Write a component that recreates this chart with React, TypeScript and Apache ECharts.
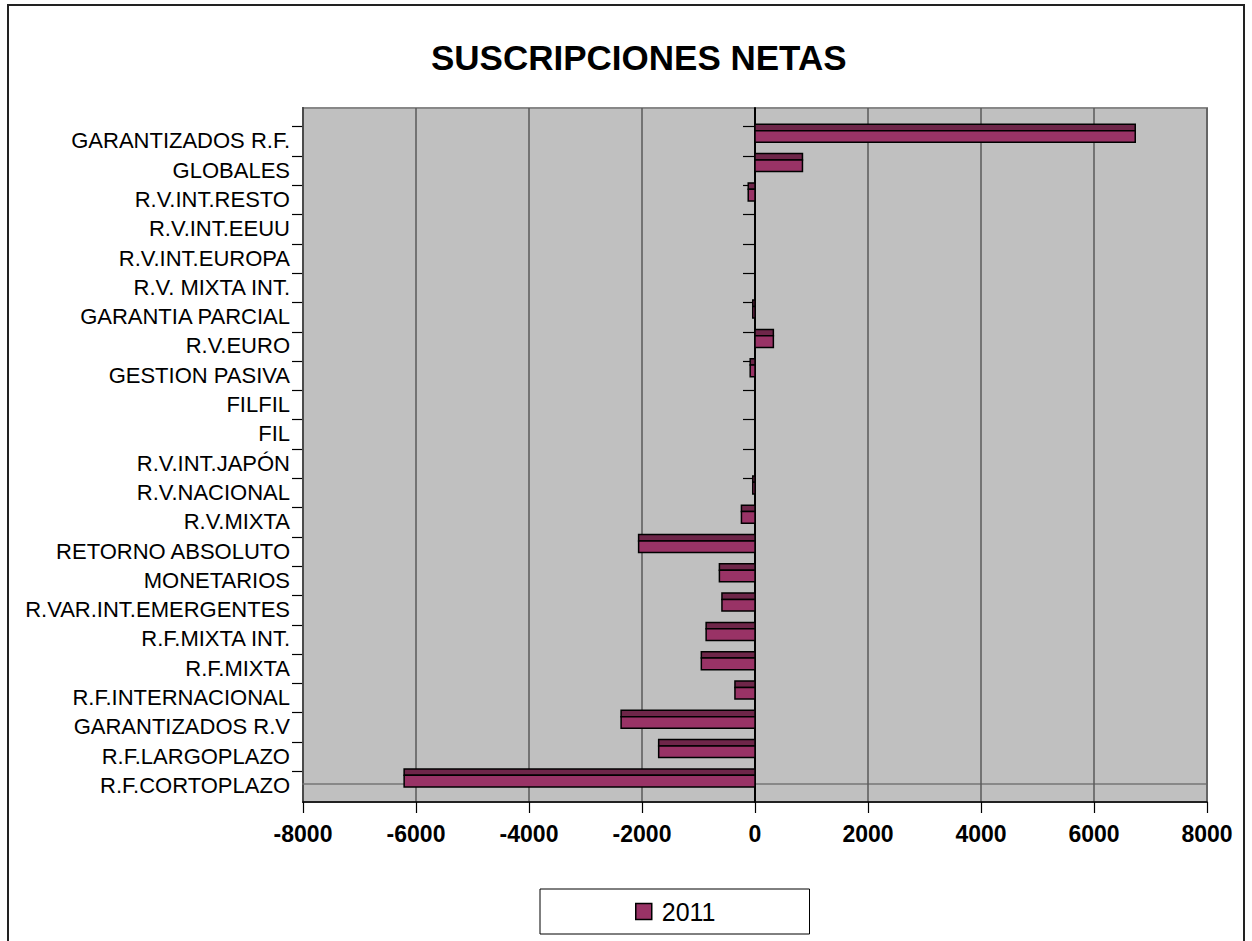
import React, { useEffect, useRef } from "react";
import * as echarts from "echarts";

const categories = [
  "GARANTIZADOS R.F.",
  "GLOBALES",
  "R.V.INT.RESTO",
  "R.V.INT.EEUU",
  "R.V.INT.EUROPA",
  "R.V. MIXTA INT.",
  "GARANTIA PARCIAL",
  "R.V.EURO",
  "GESTION PASIVA",
  "FILFIL",
  "FIL",
  "R.V.INT.JAPÓN",
  "R.V.NACIONAL",
  "R.V.MIXTA",
  "RETORNO ABSOLUTO",
  "MONETARIOS",
  "R.VAR.INT.EMERGENTES",
  "R.F.MIXTA INT.",
  "R.F.MIXTA",
  "R.F.INTERNACIONAL",
  "GARANTIZADOS R.V",
  "R.F.LARGOPLAZO",
  "R.F.CORTOPLAZO",
];

const values2011 = [
  6730, 840, -120, 0, 0, 0, -40, 325, -85, 0, 0, 0, -40, -240, -2060, -630,
  -585, -865, -950, -355, -2370, -1705, -6210,
];

const xTicks = { min: -8000, max: 8000, interval: 2000 };
const seriesName = "2011";
const chartTitle = "SUSCRIPCIONES NETAS";

const FONT = "'Liberation Sans', Arial, Helvetica, sans-serif";
const FACE = "#993366";
const TOP = "#6E2649";

export default function App() {
  const ref = useRef<HTMLDivElement>(null);

  useEffect(() => {
    if (!ref.current) return;
    const chart = echarts.init(ref.current, null, { renderer: "svg" });

    const L = 303;
    const W = 904;
    const band = 29.3;
    const H = band * categories.length;

    const hiddenX = (gridIndex: number) => ({
      type: "value",
      gridIndex,
      min: xTicks.min,
      max: xTicks.max,
      interval: xTicks.interval,
      show: false,
    });

    const option: any = {
      animation: false,
      backgroundColor: "#ffffff",
      title: {
        text: chartTitle,
        left: 431,
        top: 37,
        padding: 0,
        textStyle: {
          fontFamily: FONT,
          fontSize: 35,
          fontWeight: "bold",
          color: "#000",
          lineHeight: 40,
        },
      },
      legend: {
        data: [seriesName],
        left: 540,
        top: 889,
        orient: "horizontal",
        icon: "rect",
        itemWidth: 16,
        itemHeight: 16,
        padding: [10, 94, 10, 95],
        borderColor: "#000",
        borderWidth: 1,
        backgroundColor: "#fff",
        itemStyle: { color: FACE, borderColor: "#000", borderWidth: 1.5 },
        textStyle: {
          fontFamily: FONT,
          fontSize: 25,
          color: "#000",
          lineHeight: 25,
          padding: [0, 0, 0, 5],
        },
      },
      graphic: [
        {
          type: "rect",
          z: 100,
          silent: true,
          shape: { x: 8, y: 5, width: 1236, height: 960 },
          style: { fill: "none", stroke: "#222", lineWidth: 2 },
        },
      ],
      grid: [
        {
          left: L,
          top: 108,
          width: W,
          height: 694,
          show: true,
          backgroundColor: "#C0C0C0",
          borderColor: "#888",
          borderWidth: 2,
          containLabel: false,
        },
        { left: L, top: 118.65, width: W, height: H },
        { left: L, top: 112.05, width: W, height: H },
        { left: L, top: 126.15, width: W, height: H },
        { left: L, top: 108, width: W, height: 675.7 },
      ],
      xAxis: [
        {
          type: "value",
          gridIndex: 0,
          min: xTicks.min,
          max: xTicks.max,
          interval: xTicks.interval,
          position: "bottom",
          axisLine: { show: true, onZero: false, lineStyle: { color: "#000", width: 1.5 } },
          axisTick: { show: true, length: 11, lineStyle: { color: "#000", width: 1.2 } },
          axisLabel: {
            fontFamily: FONT,
            fontSize: 23,
            fontWeight: "bold",
            color: "#000",
            margin: 20,
            formatter: (v: number) => String(v),
          },
          splitLine: { show: true, lineStyle: { color: "#5a5a5a", width: 1.5 } },
          z: 3,
        },
        hiddenX(1),
        hiddenX(2),
        hiddenX(3),
        {
          type: "value",
          gridIndex: 4,
          min: xTicks.min,
          max: xTicks.max,
          interval: xTicks.interval,
          position: "bottom",
          axisLine: { show: true, onZero: false, lineStyle: { color: "#888", width: 2 } },
          axisTick: { show: false },
          axisLabel: { show: false },
          splitLine: { show: false },
        },
      ],
      yAxis: [
        {
          type: "category",
          gridIndex: 0,
          data: categories,
          inverse: true,
          position: "left",
          axisLine: { show: true, onZero: true, lineStyle: { color: "#000", width: 2 } },
          axisTick: { show: false },
          axisLabel: { show: false },
          splitLine: { show: false },
          z: 4,
        },
        {
          type: "category",
          gridIndex: 0,
          data: categories,
          inverse: true,
          position: "left",
          axisLine: { show: true, onZero: false, lineStyle: { color: "#000", width: 1.5 } },
          axisTick: { show: false },
          axisLabel: { show: false },
          splitLine: { show: false },
        },
        {
          type: "category",
          gridIndex: 1,
          data: categories,
          inverse: true,
          show: false,
        },
        {
          type: "category",
          gridIndex: 2,
          data: categories,
          inverse: true,
          position: "left",
          axisLine: { show: false, onZero: false },
          axisTick: { show: true, alignWithLabel: true, length: 11, lineStyle: { color: "#000", width: 1.2 } },
          axisLabel: { show: false },
          splitLine: { show: false },
        },
        {
          type: "category",
          gridIndex: 2,
          data: categories,
          inverse: true,
          position: "left",
          axisLine: { show: true, onZero: true, lineStyle: { color: "#000", width: 2 } },
          axisTick: { show: true, alignWithLabel: true, length: 12, lineStyle: { color: "#000", width: 1.2 } },
          axisLabel: { show: false },
          splitLine: { show: false },
          z: 1,
        },
        {
          type: "category",
          gridIndex: 3,
          data: categories,
          inverse: true,
          position: "left",
          axisLine: { show: false, onZero: false },
          axisTick: { show: false },
          axisLabel: {
            show: true,
            fontFamily: FONT,
            fontSize: 22,
            color: "#000",
            margin: 13,
            interval: 0,
          },
          splitLine: { show: false },
        },
        {
          type: "category",
          gridIndex: 4,
          data: categories,
          inverse: true,
          show: false,
        },
      ],
      series: [
        {
          name: seriesName,
          type: "custom",
          xAxisIndex: 1,
          yAxisIndex: 2,
          z: 5,
          itemStyle: { color: FACE, borderColor: "#000", borderWidth: 1.5 },
          encode: { x: 0, y: 1 },
          data: values2011.map((v, i) => [v, i]),
          renderItem: (params: any, api: any) => {
            const v = api.value(0);
            const c = api.value(1);
            if (!v) return null;
            const p0 = api.coord([0, c]);
            const p1 = api.coord([v, c]);
            const x = Math.min(p0[0], p1[0]);
            const w = Math.abs(p1[0] - p0[0]);
            const yc = p0[1];
            const topH = 6.4;
            const totalH = 18;
            return {
              type: "group",
              children: [
                {
                  type: "rect",
                  shape: { x, y: yc - totalH / 2, width: w, height: topH },
                  style: { fill: TOP, stroke: "#000", lineWidth: 1.5 },
                },
                {
                  type: "rect",
                  shape: { x, y: yc - totalH / 2 + topH, width: w, height: totalH - topH },
                  style: { fill: FACE, stroke: "#000", lineWidth: 1.5 },
                },
              ],
            };
          },
        },
      ],
    };

    chart.setOption(option);
    return () => chart.dispose();
  }, []);

  return (
    <div
      ref={ref}
      style={{
        position: "fixed",
        left: 0,
        top: 0,
        width: 1252,
        height: 941,
        background: "#fff",
      }}
    />
  );
}
